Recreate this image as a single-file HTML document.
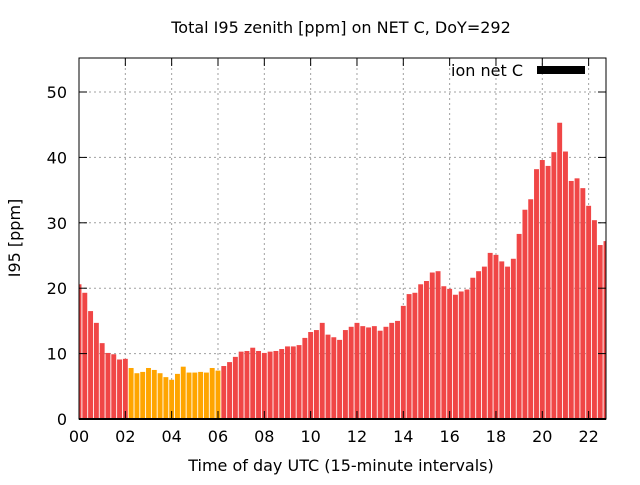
<!DOCTYPE html>
<html><head><meta charset="utf-8"><style>
body{margin:0;background:#fff}
svg text{font-family:"DejaVu Sans","Liberation Sans",sans-serif;fill:#000}
</style></head><body>
<svg id="chart" width="640" height="480">
<g id="grid"></g><g id="bars"></g><g id="axes"></g>
</svg>
<script>
const values=[20.6,19.3,16.5,14.7,11.6,10.1,9.9,9.1,9.2,7.8,7.0,7.2,7.8,7.5,7.0,6.4,6.0,6.9,8.0,7.1,7.1,7.2,7.1,7.8,7.4,8.1,8.7,9.5,10.3,10.4,10.9,10.4,10.1,10.3,10.4,10.7,11.1,11.1,11.3,12.4,13.3,13.6,14.7,12.9,12.5,12.1,13.6,14.1,14.7,14.2,14.0,14.2,13.5,14.1,14.7,15.0,17.3,19.1,19.3,20.6,21.1,22.4,22.6,20.3,19.9,19.0,19.5,19.8,21.6,22.6,23.3,25.4,25.1,24.1,23.3,24.5,28.3,32.0,33.6,38.2,39.6,38.7,40.8,45.3,40.9,36.4,36.8,35.3,32.6,30.4,26.6,27.2];
const highlightStart=9, highlightEnd=24;
const yTicks=[0,10,20,30,40,50];
const xTicks=["00","02","04","06","08","10","12","14","16","18","20","22"];
const L=79,R=606,T=58,B=419,XMAX=22.75,YMAX=55.2;
const xs=h=>L+(R-L)*h/XMAX, ys=v=>B-(B-T)*v/YMAX;
const NS="http://www.w3.org/2000/svg";
function mk(tag,attrs,parent,txt){const e=document.createElementNS(NS,tag);for(const k in attrs)e.setAttribute(k,attrs[k]);if(txt!==undefined)e.textContent=txt;document.getElementById(parent).appendChild(e);return e;}
const defs=document.createElementNS(NS,'defs');defs.innerHTML='<clipPath id="cp"><rect x="79" y="58" width="527" height="361"/></clipPath>';document.getElementById('chart').prepend(defs);
document.getElementById('bars').setAttribute('clip-path','url(#cp)');
yTicks.forEach(v=>{const y=ys(v);
 if(v>0){const g=mk('line',{x1:L,x2:R,y1:y,y2:y,stroke:'#a0a0a0','stroke-dasharray':'2,3'},'grid');
 }
 const t=mk('line',{x1:L,x2:L+8,y1:y,y2:y,stroke:'#000'},'axes');
 const t2=mk('line',{x1:R-8,x2:R,y1:y,y2:y,stroke:'#000'},'axes');
 const l=mk('text',{x:L-12,y:y+6,'text-anchor':'end','font-size':16},'axes',String(v));
});
xTicks.forEach((s,i)=>{const x=xs(i*2);
 if(i>0){const g=mk('line',{x1:x,x2:x,y1:T,y2:B,stroke:'#a0a0a0','stroke-dasharray':'2,3'},'grid');}
 const t=mk('line',{x1:x,x2:x,y1:B-8,y2:B,stroke:'#000'},'axes');
 const t2=mk('line',{x1:x,x2:x,y1:T,y2:T+8,stroke:'#000'},'axes');
 const l=mk('text',{x:x,y:B+23,'text-anchor':'middle','font-size':16},'axes',s);
});
const bw=(xs(0.25)-xs(0))*0.85;
values.forEach((v,i)=>{const x=xs(i*0.25);
 const r=mk('rect',{x:x-bw/2,y:ys(v),width:bw,height:B-ys(v),fill:(i>=highlightStart&&i<=highlightEnd)?'#ffa500':'#f04646'},'bars');
 
});
const f=mk('rect',{x:L,y:T,width:R-L,height:B-T,fill:'none',stroke:'#000','stroke-width':1},'axes');
const bl=mk('line',{x1:L,x2:R,y1:B,y2:B,stroke:'#000','stroke-width':2},'axes');
</script>
<svg width="640" height="480" style="position:absolute;left:0;top:0">
<text x="341" y="33" text-anchor="middle" font-size="16">Total I95 zenith [ppm] on NET C, DoY=292</text>
<text x="341" y="471" text-anchor="middle" font-size="16">Time of day UTC (15-minute intervals)</text>
<text transform="translate(20,238) rotate(-90)" text-anchor="middle" font-size="16">I95 [ppm]</text>
<g>
<text x="523" y="76" text-anchor="end" font-size="16">ion net C</text>
<rect x="537" y="66" width="48" height="8" fill="#000"/>
</g>
</svg>
</body></html>
